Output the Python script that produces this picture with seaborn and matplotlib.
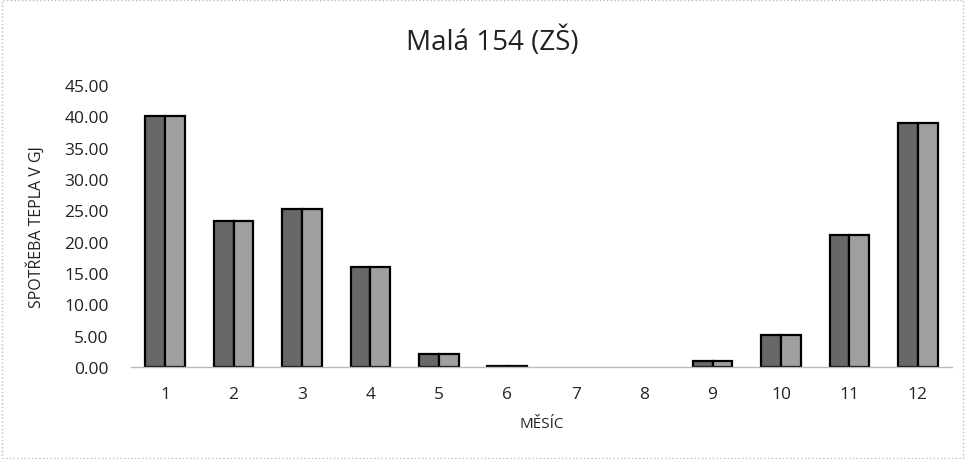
import matplotlib
matplotlib.use("Agg")
import matplotlib.pyplot as plt
import seaborn as sns
import pandas as pd

months = [str(i) for i in range(1, 13)]
values = [40.1, 23.3, 25.2, 16.0, 2.1, 0.2, 0.0, 0.0, 1.0, 5.1, 21.0, 38.9]
halves = ["left", "right"]
title = "Malá 154 (ZŠ)"
ylabel = "SPOTŘEBA TEPLA V GJ"
xlabel = "MĚSÍC"
yticks = [0, 5, 10, 15, 20, 25, 30, 35, 40, 45]

df = pd.DataFrame({
    "month": months * 2,
    "value": values * 2,
    "half": [halves[0]] * 12 + [halves[1]] * 12,
})

sns.set_theme(style="white")
plt.rcParams["font.family"] = ["Open Sans", "DejaVu Sans"]

fig = plt.figure(figsize=(9.65, 4.6), dpi=100)
ax = fig.add_axes([131 / 965, 1 - 368 / 460, (952 - 131) / 965, (368 - 86) / 460])

sns.barplot(data=df, x="month", y="value", hue="half", order=months,
            hue_order=halves, palette=["#686868", "#a0a0a0"], width=0.58,
            edgecolor="black", linewidth=1.6, dodge=True, gap=0, ax=ax,
            legend=False)
for p in ax.patches:
    if p.get_height() == 0:
        p.set_visible(False)

ax.set_ylim(0, 45)
ax.set_yticks(yticks)
ax.set_yticklabels([f"{v:.2f}" for v in yticks], fontsize=12.5, color="#222222")
ax.tick_params(axis="x", labelsize=12.5, colors="#222222", length=0, pad=14)
ax.tick_params(axis="y", length=0, pad=16)
for s in ["top", "right", "left"]:
    ax.spines[s].set_visible(False)
ax.spines["bottom"].set_color("#bbbbbb")
ax.spines["bottom"].set_linewidth(1)
ax.set_xlabel(xlabel, fontsize=11, color="#222222", labelpad=10)
ax.set_ylabel(ylabel, fontsize=11.5, color="#222222", labelpad=14)
fig.text(492 / 965, 1 - 42 / 460, title, ha="center", va="center", fontsize=20, color="#222222")

border = plt.Rectangle((0.002, 0.002), 0.996, 0.996, transform=fig.transFigure,
                       fill=False, edgecolor="#bbbbbb", linestyle=":", linewidth=1)
fig.patches.append(border)

fig.savefig("out.png", dpi=100)
